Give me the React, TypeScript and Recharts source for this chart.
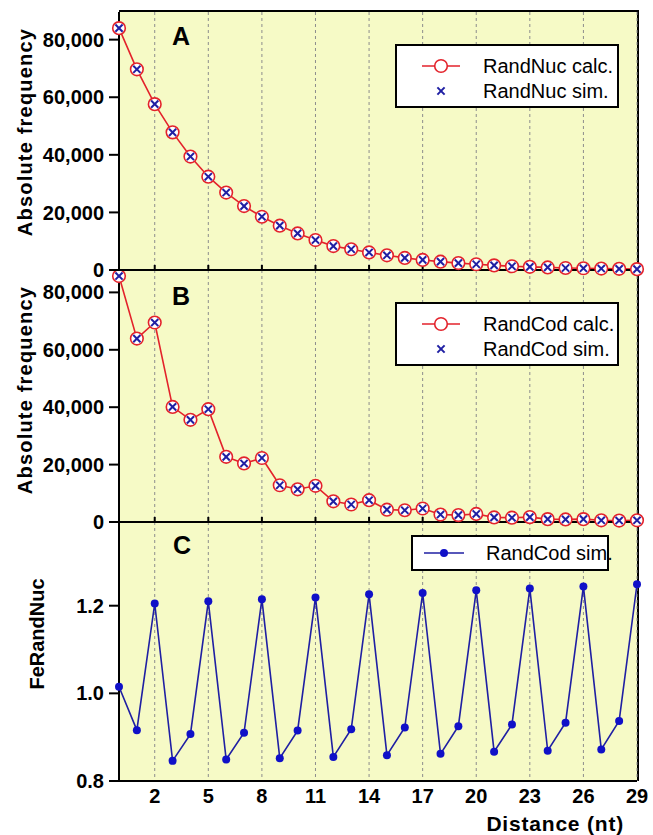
import React from 'react';
import {
  CartesianGrid,
  Legend,
  Line,
  LineChart,
  XAxis,
  YAxis,
} from 'recharts';

const distance = [0, 1, 2, 3, 4, 5, 6, 7, 8, 9, 10, 11, 12, 13, 14, 15, 16, 17, 18, 19, 20, 21, 22, 23, 24, 25, 26, 27, 28, 29];

// panel A: random nucleotide sequences
const randNucCalc = [84000, 69700, 57600, 47800, 39400, 32400, 26900, 22200, 18500, 15400, 12700, 10400, 8300, 7200, 6100, 5100, 4200, 3500, 2900, 2400, 2000, 1600, 1300, 1100, 900, 700, 600, 500, 400, 300];
const randNucSim = [84000, 69700, 57600, 47800, 39400, 32400, 26900, 22200, 18500, 15400, 12700, 10400, 8300, 7200, 6100, 5100, 4200, 3500, 2900, 2400, 2000, 1600, 1300, 1100, 900, 700, 600, 500, 400, 300];

// panel B: random codon sequences
const randCodCalc = [85700, 63900, 69500, 40100, 35600, 39300, 22700, 20400, 22300, 12800, 11400, 12600, 7200, 6100, 7600, 4300, 4100, 4700, 2600, 2400, 2800, 1600, 1500, 1700, 1000, 900, 1000, 600, 500, 600];
const randCodSim = [85700, 63900, 69500, 40100, 35600, 39300, 22700, 20400, 22300, 12800, 11400, 12600, 7200, 6100, 7600, 4300, 4100, 4700, 2600, 2400, 2800, 1600, 1500, 1700, 1000, 900, 1000, 600, 500, 600];

// panel C: RandCod sim. relative to RandNuc
const feRandNuc = [1.015, 0.916, 1.205, 0.846, 0.907, 1.21, 0.849, 0.91, 1.215, 0.852, 0.915, 1.219, 0.855, 0.918, 1.226, 0.859, 0.922, 1.229, 0.862, 0.925, 1.235, 0.867, 0.929, 1.239, 0.869, 0.933, 1.244, 0.872, 0.937, 1.249];

const xTicks = [2, 5, 8, 11, 14, 17, 20, 23, 26, 29];
const freqTicks = [0, 20000, 40000, 60000, 80000];
const feTicks = [0.8, 1.0, 1.2];

const dataA = distance.map((x, i) => ({ x, calc: randNucCalc[i], sim: randNucSim[i] }));
const dataB = distance.map((x, i) => ({ x, calc: randCodCalc[i], sim: randCodSim[i] }));
const dataC = distance.map((x, i) => ({ x, fe: feRandNuc[i] }));

const FONT = '"Liberation Sans", Arial, Helvetica, sans-serif';
const RED = '#e3222b';
const BLUE = '#1f1fa3';
const BG = '#f6fac6';
const W = 653;
const PLOT_LEFT = 119;
const PLOT_RIGHT = 16;

const tickStyle = { fill: '#000', fontSize: 20, fontWeight: 700, fontFamily: FONT };
const blackLine = { stroke: '#000', strokeWidth: 2 };

const circleDot = (p: any) => (
  <circle key={`c${p.index}`} cx={p.cx} cy={p.cy} r={6.3} fill="#fff" stroke={RED} strokeWidth={1.6} />
);

const crossDot = (p: any) => (
  <g key={`x${p.index}`} stroke={BLUE} strokeWidth={2}>
    <line x1={p.cx - 3.6} y1={p.cy - 3.6} x2={p.cx + 3.6} y2={p.cy + 3.6} />
    <line x1={p.cx - 3.6} y1={p.cy + 3.6} x2={p.cx + 3.6} y2={p.cy - 3.6} />
  </g>
);

const noLabel = (p: any) => <g key={`t${p.index}`} />;

// top and right edges of the panel frame, sitting under the chart svg
function Frame({ top, height }: { top: number; height: number }) {
  return (
    <div
      style={{
        position: 'absolute',
        left: PLOT_LEFT,
        top: top - 2,
        width: W - PLOT_LEFT - PLOT_RIGHT + 2,
        height: height + 2,
        boxSizing: 'border-box',
        borderTop: '2px solid #000',
        borderRight: '2px solid #000',
      }}
    />
  );
}

const yTitle = (text: string, x: number, y: number, spacing = 0) => ({
  content: () => (
    <text
      x={x}
      y={y}
      transform={`rotate(-90 ${x} ${y})`}
      textAnchor="middle"
      dominantBaseline="central"
      fontFamily={FONT}
      fontWeight={700}
      fontSize={20}
      letterSpacing={spacing}
      fill="#000"
    >
      {text}
    </text>
  ),
});

const boxStyle: React.CSSProperties = {
  position: 'relative',
  boxSizing: 'border-box',
  width: '100%',
  height: '100%',
  border: '2px solid #000',
  background: '#fff',
  fontFamily: FONT,
  fontSize: 20,
  color: '#000',
  whiteSpace: 'nowrap',
};

function PairLegend({ calc, sim }: { calc: string; sim: string }) {
  return (
    <div style={boxStyle}>
      <svg width={80} height={60} style={{ position: 'absolute', left: 0, top: 0 }}>
        <line x1={25} y1={20} x2={63} y2={20} stroke={RED} strokeWidth={1.6} />
        <circle cx={44} cy={20} r={6.3} fill="#fff" stroke={RED} strokeWidth={1.6} />
        <g stroke={BLUE} strokeWidth={2}>
          <line x1={40.4} y1={41.4} x2={47.6} y2={48.6} />
          <line x1={40.4} y1={48.6} x2={47.6} y2={41.4} />
        </g>
      </svg>
      <div style={{ position: 'absolute', left: 86, top: 8, lineHeight: '24px' }}>{calc}</div>
      <div style={{ position: 'absolute', left: 86, top: 33, lineHeight: '24px' }}>{sim}</div>
    </div>
  );
}

function SimLegend() {
  return (
    <div style={boxStyle}>
      <svg width={70} height={34} style={{ position: 'absolute', left: 0, top: 0 }}>
        <line x1={11} y1={16} x2={51} y2={16} stroke={BLUE} strokeWidth={1.6} />
        <circle cx={31} cy={16} r={4} fill="#1010c8" />
      </svg>
      <div style={{ position: 'absolute', left: 73, top: 4, lineHeight: '24px' }}>RandCod sim.</div>
    </div>
  );
}

function FreqPanel({
  data,
  top,
  marginTop,
  height,
  xHeight,
  yMax,
  legend,
  z,
}: {
  data: any[];
  top: number;
  marginTop: number;
  height: number;
  xHeight: number;
  yMax: number;
  legend: React.ReactNode;
  z: number;
}) {
  return (
    <div style={{ position: 'absolute', left: 0, top, zIndex: z }}>
      <Frame top={marginTop} height={height - marginTop - xHeight} />
      <LineChart width={W} height={height} data={data} margin={{ top: marginTop, right: PLOT_RIGHT, left: 0, bottom: 0 }}>
        <CartesianGrid horizontal={false} stroke="#8c8c8c" strokeDasharray="3 3" fill={BG} />
        <XAxis
          dataKey="x"
          type="number"
          domain={[0, 29]}
          ticks={xTicks}
          height={xHeight}
          tick={noLabel}
          tickSize={-5}
          axisLine={blackLine}
          tickLine={blackLine}
        />
        <YAxis
          type="number"
          domain={[0, yMax]}
          ticks={freqTicks}
          width={PLOT_LEFT}
          tick={tickStyle}
          tickSize={10}
          tickMargin={5}
          tickFormatter={(v: number) => v.toLocaleString('en-US')}
          axisLine={blackLine}
          tickLine={blackLine}
          label={yTitle('Absolute frequency', 25, marginTop + 120, 1.2)}
        />
        <Legend
          layout="horizontal"
          verticalAlign="middle"
          align="center"
          wrapperStyle={{ left: 395, top: marginTop + 32, width: 224, height: 64 }}
          content={() => legend}
        />
        <Line dataKey="calc" stroke={RED} strokeWidth={1.6} dot={circleDot} isAnimationActive={false} />
        <Line dataKey="sim" stroke="none" dot={crossDot} isAnimationActive={false} />
      </LineChart>
    </div>
  );
}

export default function App() {
  return (
    <div style={{ position: 'absolute', left: 0, top: 0, width: W, height: 835, background: '#fff' }}>
      <FreqPanel
        data={dataA}
        top={0}
        marginTop={12}
        height={300}
        xHeight={30}
        yMax={89600}
        z={3}
        legend={<PairLegend calc="RandNuc calc." sim="RandNuc sim." />}
      />
      <FreqPanel
        data={dataB}
        top={250}
        marginTop={20}
        height={300}
        xHeight={28}
        yMax={87800}
        z={2}
        legend={<PairLegend calc="RandCod calc." sim="RandCod sim." />}
      />
      <div style={{ position: 'absolute', left: 0, top: 500, zIndex: 1 }}>
        <Frame top={22} height={335 - 22 - 54} />
        <LineChart width={W} height={335} data={dataC} margin={{ top: 22, right: PLOT_RIGHT, left: 0, bottom: 0 }}>
          <CartesianGrid horizontal={false} stroke="#8c8c8c" strokeDasharray="3 3" fill={BG} />
          <XAxis
            dataKey="x"
            type="number"
            domain={[0, 29]}
            ticks={xTicks}
            height={54}
            tick={tickStyle}
            tickSize={0}
            tickMargin={8}
            tickLine={false}
            axisLine={blackLine}
            label={{
              content: () => (
                <text x={624} y={331} textAnchor="end" fontFamily={FONT} fontWeight={700} fontSize={21} letterSpacing={0.8} fill="#000">
                  Distance (nt)
                </text>
              ),
            }}
          />
          <YAxis
            type="number"
            domain={[0.8, 1.391]}
            ticks={feTicks}
            width={PLOT_LEFT}
            tick={tickStyle}
            tickSize={10}
            tickMargin={5}
            tickFormatter={(v: number) => v.toFixed(1)}
            axisLine={blackLine}
            tickLine={blackLine}
            label={yTitle('FeRandNuc', 37, 134)}
          />
          <Legend
            layout="horizontal"
            verticalAlign="middle"
            align="center"
            wrapperStyle={{ left: 411, top: 35, width: 198, height: 36 }}
            content={() => <SimLegend />}
          />
          <Line dataKey="fe" stroke={BLUE} strokeWidth={1.6} dot={{ r: 4, fill: '#1010c8', stroke: 'none' }} isAnimationActive={false} />
        </LineChart>
      </div>
      <svg width={W} height={835} style={{ position: 'absolute', left: 0, top: 0, zIndex: 4, pointerEvents: 'none' }}>
        <g fontFamily={FONT} fontWeight={900} fontSize={25} fill="#000">
          <text x={172} y={45}>A</text>
          <text x={172} y={305}>B</text>
          <text x={173} y={554}>C</text>
        </g>
      </svg>
    </div>
  );
}
